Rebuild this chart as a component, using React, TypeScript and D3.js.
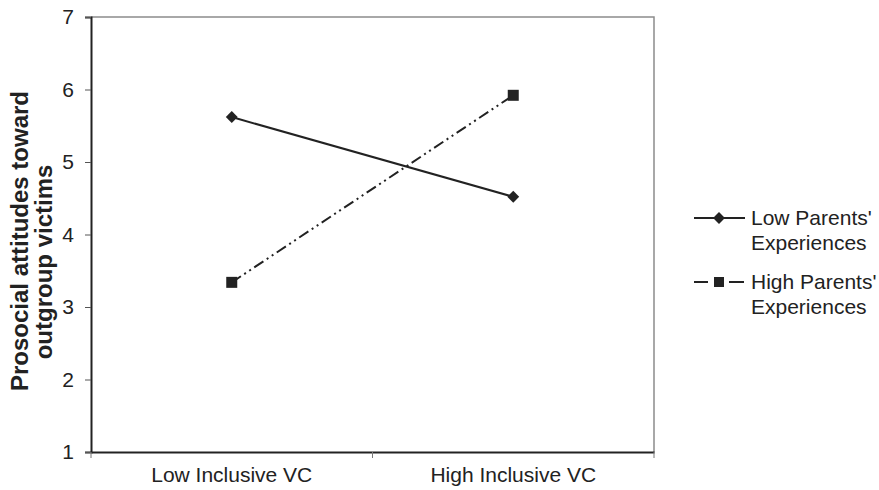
import * as d3 from "d3";
import React, { useRef, useEffect } from "react";

const categories = ["Low Inclusive VC", "High Inclusive VC"];
const lowParents = [5.62, 4.52];
const highParents = [3.34, 5.92];
const yTicks = [1, 2, 3, 4, 5, 6, 7];
const seriesNames = ["Low Parents'|Experiences", "High Parents'|Experiences"];

const W = 879,
  H = 490;
const left = 91,
  right = 654,
  top = 17,
  bottom = 452;
const font = "Liberation Sans, Arial, sans-serif";

function App() {
  const ref = useRef<SVGSVGElement>(null);

  useEffect(() => {
    const svg = d3.select(ref.current);
    svg.selectAll("*").remove();

    const x = d3.scaleBand().domain(categories).range([left, right]);
    const y = d3.scaleLinear().domain([1, 7]).range([bottom, top]);

    // plot frame (top + right gray)
    svg
      .append("path")
      .attr("d", `M${left},${top}H${right}V${bottom}`)
      .attr("fill", "none")
      .attr("stroke", "#8c8c8c")
      .attr("stroke-width", 1.5);

    // y axis
    const ya = svg
      .append("g")
      .attr("transform", `translate(${left},0)`)
      .call(d3.axisLeft(y).tickValues(yTicks).tickSize(6).tickPadding(11).tickFormat(d3.format("d")));
    ya.select(".domain").attr("stroke", "#222").attr("stroke-width", 2);
    ya.selectAll(".tick line").attr("stroke", "#555");
    ya.selectAll("text")
      .attr("font-family", font)
      .attr("font-size", 21)
      .attr("fill", "#222");

    // x axis
    const xa = svg
      .append("g")
      .attr("transform", `translate(0,${bottom})`)
      .call(d3.axisBottom(x).tickSize(0).tickPadding(15));
    xa.select(".domain").attr("stroke", "#222").attr("stroke-width", 2);
    xa.selectAll("text")
      .attr("font-family", font)
      .attr("font-size", 21)
      .attr("fill", "#222");
    // boundary ticks
    const edges = [left, left + x.bandwidth(), right];
    svg
      .selectAll("line.xt")
      .data(edges)
      .enter()
      .append("line")
      .attr("x1", (d) => d)
      .attr("x2", (d) => d)
      .attr("y1", bottom)
      .attr("y2", bottom + 6)
      .attr("stroke", "#777")
      .attr("stroke-width", 1);

    // y label
    const yl = svg
      .append("text")
      .attr("transform", `rotate(-90)`)
      .attr("text-anchor", "middle")
      .attr("font-family", font)
      .attr("font-weight", "bold")
      .attr("font-size", 24)
      .attr("fill", "#222");
    yl.append("tspan").attr("x", -241).attr("y", 28).text("Prosocial attitudes toward");
    yl.append("tspan").attr("x", -262).attr("y", 52).text("outgroup victims");

    const cx = (c: string) => (x(c) as number) + x.bandwidth() / 2;
    const line = d3
      .line<number>()
      .x((_, i) => cx(categories[i]))
      .y((d) => y(d));

    const dash = "11,4,2,4,2,4";

    svg
      .append("path")
      .attr("d", line(highParents))
      .attr("fill", "none")
      .attr("stroke", "#222")
      .attr("stroke-width", 2)
      .attr("stroke-dasharray", dash);
    svg
      .append("path")
      .attr("d", line(lowParents))
      .attr("fill", "none")
      .attr("stroke", "#222")
      .attr("stroke-width", 2);

    const diamond = d3.symbol().type(d3.symbolDiamond2).size(90);
    svg
      .selectAll("path.dm")
      .data(lowParents)
      .enter()
      .append("path")
      .attr("d", diamond())
      .attr("transform", (d, i) => `translate(${cx(categories[i])},${y(d)})`)
      .attr("fill", "#222");
    svg
      .selectAll("rect.sq")
      .data(highParents)
      .enter()
      .append("rect")
      .attr("x", (_, i) => cx(categories[i]) - 5.5)
      .attr("y", (d) => y(d) - 5.5)
      .attr("width", 11)
      .attr("height", 11)
      .attr("fill", "#222");

    // legend
    const lg = svg.append("g").attr("font-family", font).attr("font-size", 21).attr("fill", "#222");
    const rows = [218, 282];
    seriesNames.forEach((name, i) => {
      const yy = rows[i];
      const g = lg.append("g");
      if (i === 0) {
        g.append("line").attr("x1", 694).attr("x2", 745).attr("y1", yy).attr("y2", yy).attr("stroke", "#222").attr("stroke-width", 2);
        g.append("path").attr("d", diamond()).attr("transform", `translate(719,${yy})`).attr("fill", "#222");
      } else {
        g.append("line").attr("x1", 694).attr("x2", 708).attr("y1", yy).attr("y2", yy).attr("stroke", "#222").attr("stroke-width", 2);
        g.append("line").attr("x1", 729).attr("x2", 744).attr("y1", yy).attr("y2", yy).attr("stroke", "#222").attr("stroke-width", 2);
        g.append("rect").attr("x", 714).attr("y", yy - 5).attr("width", 10).attr("height", 10).attr("fill", "#222");
      }
      const parts = name.split("|");
      const t = g.append("text").attr("x", 751).attr("y", yy + 7);
      t.append("tspan").attr("x", 751).text(parts[0]);
      t.append("tspan").attr("x", 751).attr("dy", 25).text(parts[1]);
    });
  }, []);

  return (
    <svg ref={ref} width={W} height={H} style={{ position: "absolute", left: 0, top: 0, background: "#fff" }} />
  );
}

export default App;
